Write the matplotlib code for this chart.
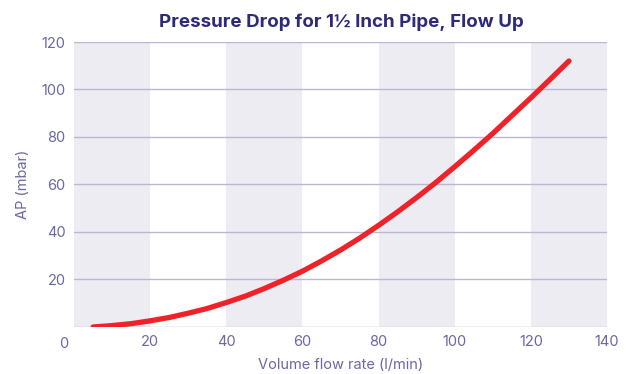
import matplotlib
matplotlib.use("Agg")
import matplotlib.pyplot as plt
from matplotlib.transforms import blended_transform_factory

# data
flow = [5, 10, 15, 20, 25, 30, 35, 40, 45, 50, 55, 60, 65, 70, 75, 80, 85,
        90, 95, 100, 105, 110, 115, 120, 125, 130]
pressure = [0, 0.6, 1.4, 2.6, 4.0, 5.8, 7.8, 10.3, 13.0, 16.2, 19.7, 23.5,
            27.8, 32.4, 37.4, 42.8, 48.5, 54.5, 60.8, 67.5, 74.4, 81.5, 89.0,
            96.5, 104.2, 112.0]
x_ticks = [0, 20, 40, 60, 80, 100, 120, 140]
y_ticks = [20, 40, 60, 80, 100, 120]
bands = [(0, 20), (40, 60), (80, 100), (120, 140)]

NAVY = "#2D2A78"
LABEL = "#6A68A0"
GRID = "#B9B8D2"
BAND = "#EDECF3"
RED = "#EE2229"

plt.rcParams["font.family"] = ["Inter", "DejaVu Sans"]

fig = plt.figure(figsize=(6.33, 3.74), dpi=100)
ax = fig.add_axes([0.117, 0.1257, 0.842, 0.762])

for lo, hi in bands:
    ax.axvspan(lo, hi, color=BAND, linewidth=0, zorder=0)
for y in [0] + y_ticks:
    ax.axhline(y, color=GRID, linewidth=1.0, zorder=1)

ax.plot(flow, pressure, color=RED, linewidth=3.8, solid_capstyle="round",
        solid_joinstyle="round", zorder=3)

ax.set_xlim(0, 140)
ax.set_ylim(0, 120)
ax.set_xticks(x_ticks)
ax.set_xticklabels([""] + [str(t) for t in x_ticks[1:]])
ax.set_yticks(y_ticks)
ax.tick_params(length=0, colors=LABEL, labelsize=10.5, pad=6)
for s in ax.spines.values():
    s.set_visible(False)

# corner "0" sits a bit left of the axis origin
trans = blended_transform_factory(ax.transAxes, ax.transAxes)
ax.text(-0.019, -0.035, "0", transform=trans, ha="center", va="top",
        color=LABEL, fontsize=10.5)

ax.set_xlabel("Volume flow rate (l/min)", color=LABEL, fontsize=10.5, labelpad=6)
ax.set_ylabel("AP (mbar)", color=LABEL, fontsize=10.5, labelpad=8)
fig.text(0.539, 0.94, "Pressure Drop for 1½ Inch Pipe, Flow Up", ha="center",
         va="center", color=NAVY, fontsize=13.5, fontweight="bold")

fig.savefig("out.png", dpi=100)
